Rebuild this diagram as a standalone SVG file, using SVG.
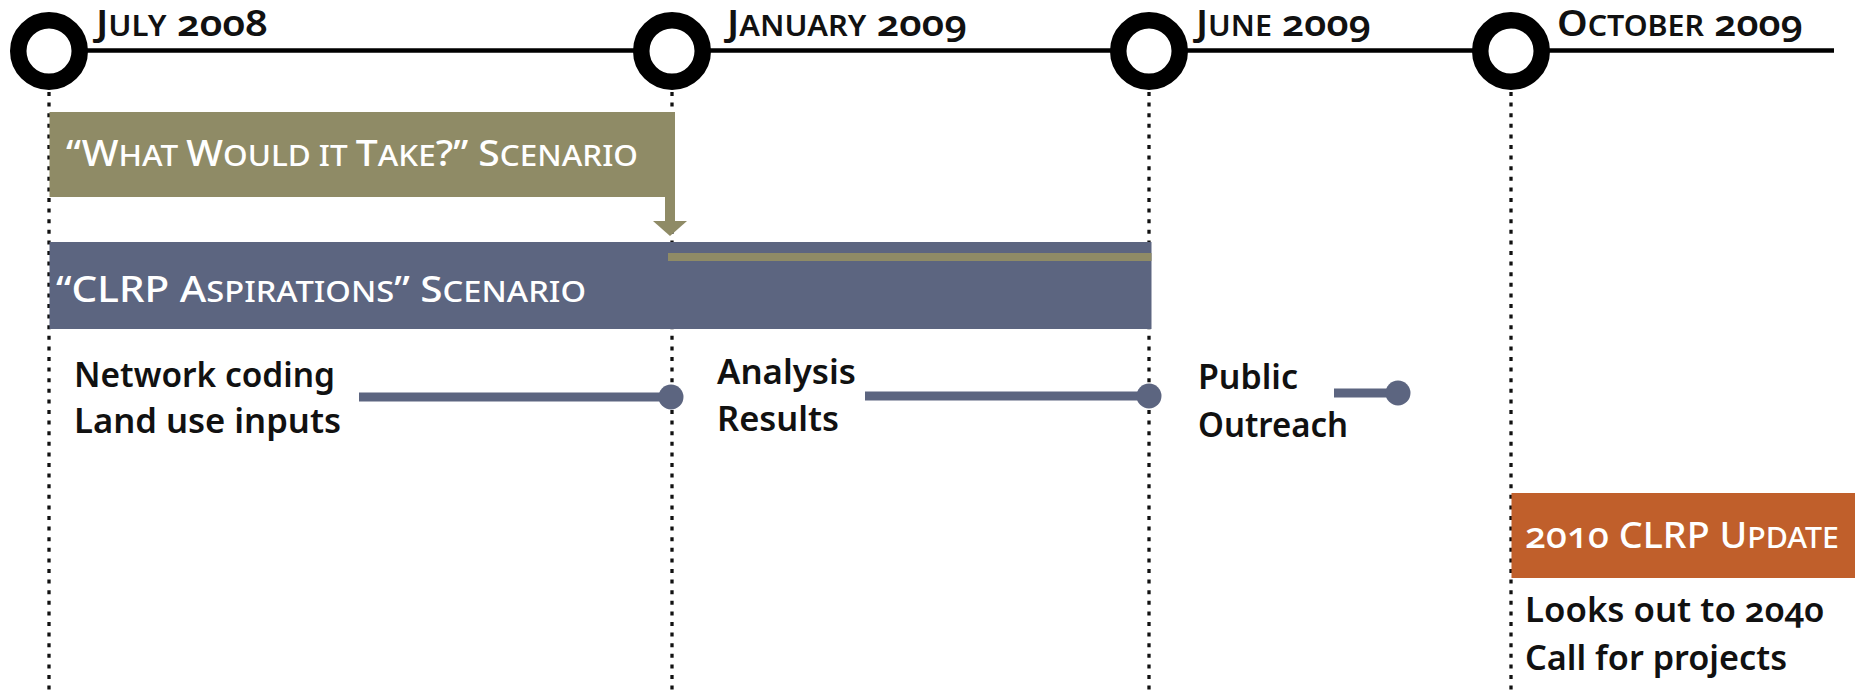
<svg xmlns="http://www.w3.org/2000/svg" width="1860" height="690" viewBox="0 0 1860 690">
<defs>
<style>
.bg{fill:#ffffff}
.guide{stroke:#111;stroke-width:3.3;stroke-dasharray:4 6.6;fill:none}
.axis{stroke:#000;stroke-width:4.5;fill:none}
.ring{fill:#fff;stroke:#000;stroke-width:16.5}
.date{font-family:"Noto Sans","Liberation Sans",sans-serif;font-weight:600;fill:#111;font-variant-numeric:oldstyle-nums}
.cap{font-size:36px}
.sc{font-size:28px}
.bar{font-family:"Noto Sans","Liberation Sans",sans-serif;font-weight:500;fill:#fff;font-variant-numeric:oldstyle-nums}
.bcap{font-size:36px}
.bsc{font-size:29px}
.lbl{font-family:"Noto Sans","Liberation Sans",sans-serif;font-weight:600;font-size:35px;fill:#111;font-variant-numeric:oldstyle-nums}
.olive{fill:#8f8b66}
.blue{fill:#5c6580}
.orange{fill:#c05f2b}
.link{stroke:#5c6580;stroke-width:9;fill:none}
.dot{fill:#5c6580}
</style>
</defs>
<rect class="bg" x="0" y="0" width="1860" height="690"/>

<g id="guides">
<line class="guide" x1="49" y1="92" x2="49" y2="690"/>
<line class="guide" x1="672" y1="92" x2="672" y2="690"/>
<line class="guide" x1="1149" y1="92" x2="1149" y2="690"/>
<line class="guide" x1="1511" y1="92" x2="1511" y2="690"/>
</g>

<g id="timeline">
<line class="axis" x1="49" y1="50.5" x2="1834" y2="50.5"/>
</g>

<g id="m-jul2008">
<circle class="ring" cx="49" cy="51" r="30.75"/>
<text class="date" x="96" y="36" textLength="172" lengthAdjust="spacingAndGlyphs"><tspan class="cap">J</tspan><tspan class="sc">ULY</tspan><tspan class="cap"> 2008</tspan></text>
</g>
<g id="m-jan2009">
<circle class="ring" cx="672" cy="51" r="30.75"/>
<text class="date" x="727" y="36" textLength="240" lengthAdjust="spacingAndGlyphs"><tspan class="cap">J</tspan><tspan class="sc">ANUARY</tspan><tspan class="cap"> 2009</tspan></text>
</g>
<g id="m-jun2009">
<circle class="ring" cx="1149" cy="51" r="30.75"/>
<text class="date" x="1196" y="36" textLength="175" lengthAdjust="spacingAndGlyphs"><tspan class="cap">J</tspan><tspan class="sc">UNE</tspan><tspan class="cap"> 2009</tspan></text>
</g>
<g id="m-oct2009">
<circle class="ring" cx="1511" cy="51" r="30.75"/>
<text class="date" x="1557" y="36" textLength="246" lengthAdjust="spacingAndGlyphs"><tspan class="cap">O</tspan><tspan class="sc">CTOBER</tspan><tspan class="cap"> 2009</tspan></text>
</g>

<g id="what-would-it-take">
<rect class="olive" x="49.5" y="112" width="625.5" height="85"/>
<rect class="olive" x="665" y="196" width="10" height="26"/>
<polygon class="olive" points="653,221 687,221 670,236"/>
<text class="bar" x="66" y="166" textLength="572" lengthAdjust="spacingAndGlyphs"><tspan class="bcap">“W</tspan><tspan class="bsc">HAT </tspan><tspan class="bcap">W</tspan><tspan class="bsc">OULD IT </tspan><tspan class="bcap">T</tspan><tspan class="bsc">AKE</tspan><tspan class="bcap">?” S</tspan><tspan class="bsc">CENARIO</tspan></text>
</g>

<g id="clrp-aspirations">
<rect class="blue" x="49.5" y="242" width="1102" height="87"/>
<rect class="olive" x="668" y="253" width="483.5" height="8"/>
<text class="bar" x="56" y="302" textLength="530" lengthAdjust="spacingAndGlyphs"><tspan class="bcap">“CLRP A</tspan><tspan class="bsc">SPIRATIONS</tspan><tspan class="bcap">” S</tspan><tspan class="bsc">CENARIO</tspan></text>
</g>

<g id="clrp-update">
<rect class="orange" x="1511.5" y="493" width="343.5" height="85"/>
<text class="bar" x="1525" y="548" textLength="314" lengthAdjust="spacingAndGlyphs"><tspan class="bcap">2010 CLRP U</tspan><tspan class="bsc">PDATE</tspan></text>
</g>

<g id="task-network">
<text class="lbl" x="74" y="387" textLength="261" lengthAdjust="spacingAndGlyphs">Network coding</text>
<text class="lbl" x="74" y="433" textLength="267" lengthAdjust="spacingAndGlyphs">Land use inputs</text>
</g>
<g id="task-analysis">
<text class="lbl" x="717" y="384" textLength="139" lengthAdjust="spacingAndGlyphs">Analysis</text>
<text class="lbl" x="717" y="431" textLength="122" lengthAdjust="spacingAndGlyphs">Results</text>
</g>
<g id="task-outreach">
<text class="lbl" x="1198" y="389" textLength="100" lengthAdjust="spacingAndGlyphs">Public</text>
<text class="lbl" x="1198" y="437" textLength="150" lengthAdjust="spacingAndGlyphs">Outreach</text>
</g>
<g id="task-update">
<text class="lbl" x="1525" y="622" textLength="299" lengthAdjust="spacingAndGlyphs">Looks out to 2040</text>
<text class="lbl" x="1525" y="670" textLength="262" lengthAdjust="spacingAndGlyphs">Call for projects</text>
</g>

<g id="connectors">
<line class="link" x1="359" y1="397" x2="671" y2="397"/>
<circle class="dot" cx="671" cy="397" r="12.5"/>
<line class="link" x1="865" y1="396" x2="1149" y2="396"/>
<circle class="dot" cx="1149" cy="396" r="12.5"/>
<line class="link" x1="1334" y1="393" x2="1398" y2="393"/>
<circle class="dot" cx="1398" cy="393" r="12.5"/>
</g>
</svg>
